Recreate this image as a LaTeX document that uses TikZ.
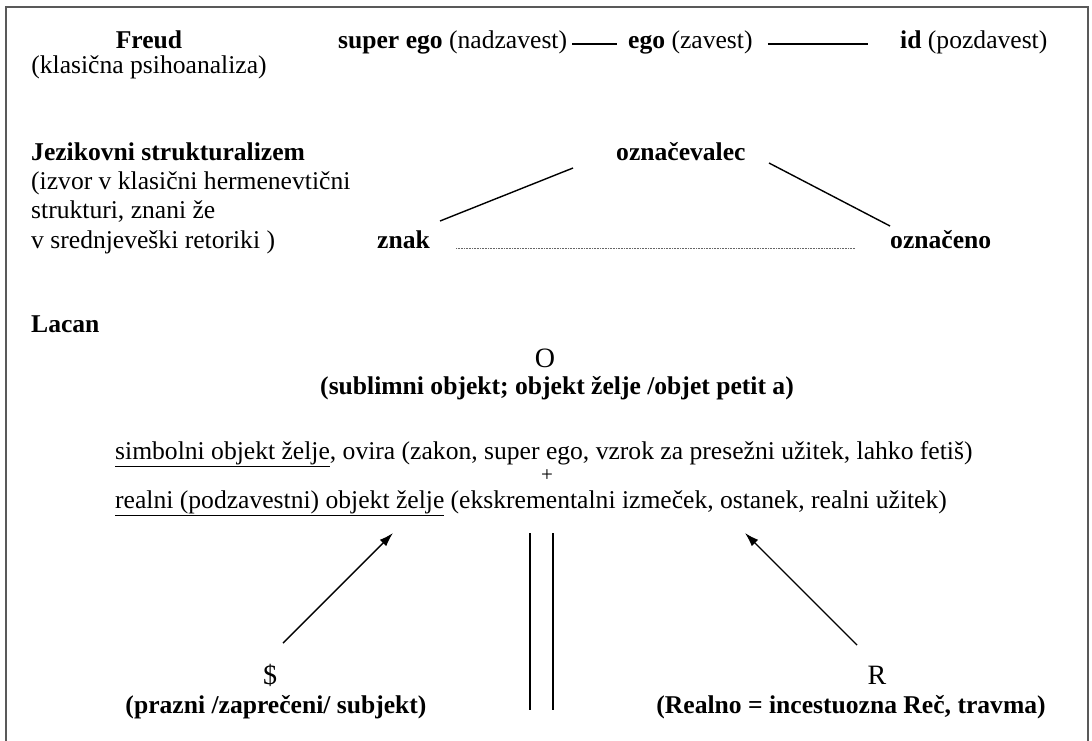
\documentclass[tikz,border=0pt]{standalone}
\usepackage{fontspec}
\setmainfont{Liberation Serif}
\usetikzlibrary{arrows.meta}
\begin{document}
\begin{tikzpicture}[x=1pt,y=-1pt,
  txt/.style={inner sep=0pt, font=\fontsize{25.6}{29.4}\selectfont},
  bigtxt/.style={inner sep=0pt, font=\fontsize{28}{32}\selectfont},
  smalltxt/.style={inner sep=0pt, font=\fontsize{21}{24}\selectfont},
  conn/.style={line width=1.4pt, black},
  dotline/.style={line width=1pt, black!60, dash pattern=on 0.8pt off 0.8pt},
  arr/.style={conn, -{Latex[length=14pt,width=9pt]}},
  frame/.style={line width=1.6pt, black!65}]
\useasboundingbox (0,0) rectangle (1092,740);
\fill[white] (0,0) rectangle (1092,740);
\draw[frame] (6,745) -- (6,7) -- (1088,7) -- (1088,745);

% Freud
\node[txt, anchor=base] (freud) at (149,48) {\textbf{Freud}};
\node[txt, anchor=base] (klas) at (149,73) {(klasična psihoanaliza)};
\node[txt, anchor=base west] (sego) at (338,48) {\textbf{super ego} (nadzavest)};
\node[txt, anchor=base west] (ego) at (628,48) {\textbf{ego} (zavest)};
\node[txt, anchor=base west] (id) at (900,48) {\textbf{id} (pozdavest)};
\draw[conn, shorten <=5pt, shorten >=11pt] ([yshift=4pt]sego.base east) -- ([yshift=4pt]ego.base west);
\draw[conn, shorten <=15pt, shorten >=32pt] ([yshift=4pt]ego.base east) -- ([yshift=4pt]id.base west);

% Jezikovni strukturalizem
\node[txt, anchor=base west] (jez) at (31,160) {\textbf{Jezikovni strukturalizem}};
\node[txt, anchor=base west] (jez1) at (31,189) {(izvor v klasični hermenevtični};
\node[txt, anchor=base west] (jez2) at (31,218) {strukturi, znani že};
\node[txt, anchor=base west] (jez3) at (31,248) {v srednjeveški retoriki )};
\node[txt, anchor=base west] (ozv) at (616,160) {\textbf{označevalec}};
\node[txt, anchor=base west] (znak) at (377,248) {\textbf{znak}};
\node[txt, anchor=base west] (ozn) at (890,248) {\textbf{označeno}};
\coordinate (zlA) at (573,168);
\coordinate (zlB) at (440,221);
\coordinate (zrA) at (769,163);
\coordinate (zrB) at (890,226);
\draw[conn] (zlA) -- (zlB);
\draw[conn] (zrA) -- (zrB);
\draw[dotline, shorten <=26pt, shorten >=35pt] (znak.base east) -- (ozn.base west);

% Lacan
\node[txt, anchor=base west] (lacan) at (31,332) {\textbf{Lacan}};
\node[bigtxt, anchor=base] (O) at (545,367) {O};
\node[txt, anchor=base] (subl) at (557,394) {\textbf{(sublimni objekt; objekt želje /objet petit a)}};
\node[txt, anchor=base west] (simb) at (115,459) {\underline{simbolni objekt želje}, ovira (zakon, super ego, vzrok za presežni užitek, lahko fetiš)};
\node[smalltxt, anchor=base] (plus) at (547,481) {+};
\node[txt, anchor=base west] (real) at (115,508) {\underline{realni (podzavestni) objekt želje} (ekskrementalni izmeček, ostanek, realni užitek)};

\node[bigtxt, anchor=base] (dol) at (270,684) {\$};
\node[txt, anchor=base] (prazni) at (276,713) {\textbf{(prazni /zaprečeni/ subjekt)}};
\node[bigtxt, anchor=base] (R) at (877,684) {R};
\node[txt, anchor=base] (realno) at (851,713) {\textbf{(Realno = incestuozna Reč, travma)}};

\coordinate (a1s) at (283,643);
\coordinate (a1e) at (393,533);
\coordinate (a2s) at (857,645);
\coordinate (a2e) at (745,533);
\draw[arr] (a1s) -- (a1e);
\draw[arr] (a2s) -- (a2e);

\coordinate (v1t) at (530,533);
\coordinate (v1b) at (530,710);
\coordinate (v2t) at (553,533);
\coordinate (v2b) at (553,710);
\draw[conn] (v1t) -- (v1b);
\draw[conn] (v2t) -- (v2b);
\end{tikzpicture}
\end{document}
